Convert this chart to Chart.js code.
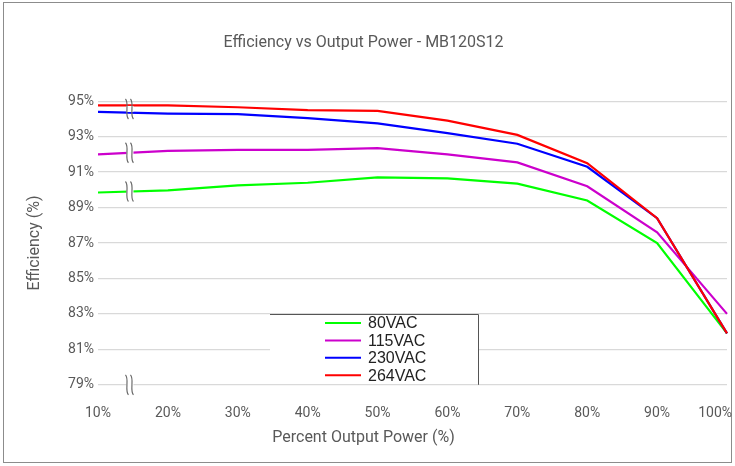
<!DOCTYPE html>
<html>
<head>
<meta charset="utf-8">
<script src="https://cdn.jsdelivr.net/npm/chart.js@4.4.1/dist/chart.umd.min.js"></script>
<style>
  html, body { margin: 0; padding: 0; background: #fff; }
  #wrap { width: 735px; height: 466px; }
</style>
</head>
<body>
<div id="wrap"><canvas id="canvas" width="735" height="466"></canvas></div>
<script>
var loadLabels = ["10%", "20%", "30%", "40%", "50%", "60%", "70%", "80%", "90%", "100%"];
var eff80 = [89.85, 89.97, 90.25, 90.4, 90.7, 90.65, 90.35, 89.4, 87.0, 81.9];
var eff115 = [92.0, 92.2, 92.25, 92.25, 92.35, 92.0, 91.55, 90.2, 87.6, 83.0];
var eff230 = [94.4, 94.3, 94.27, 94.05, 93.75, 93.2, 92.6, 91.3, 88.4, 81.9];
var eff264 = [94.77, 94.77, 94.66, 94.5, 94.45, 93.9, 93.1, 91.5, 88.4, 81.9];
var yTicks = [79, 81, 83, 85, 87, 89, 91, 93, 95];

var grey = '#595959';

// "}}" axis-break marks drawn on the lines between 10% and 20%
var breakPlugin = {
    id: 'breaks',
    afterDatasetsDraw: function(chart) {
        var ctx = chart.ctx;
        var xs = chart.scales.x, ys = chart.scales.y;
        var f = 0.45;
        var bx = xs.getPixelForValue(0) + f * (xs.getPixelForValue(1) - xs.getPixelForValue(0));
        function yAt(arr) {
            return ys.getPixelForValue(arr[0] + f * (arr[1] - arr[0]));
        }
        var centers = [
            (yAt(eff264) + yAt(eff230)) / 2,
            yAt(eff115),
            yAt(eff80),
            ys.getPixelForValue(ys.min)
        ];
        ctx.save();
        ctx.strokeStyle = '#6b6b6b';
        ctx.lineWidth = 1.2;
        centers.forEach(function(cy) {
            ctx.fillStyle = '#fff';
            ctx.fillRect(bx - 3, cy - 3, 7, 6);
            [bx - 2.5, bx + 2.5].forEach(function(x0) {
                var top = cy - 10, bot = cy + 10;
                ctx.beginPath();
                ctx.moveTo(x0 - 1.5, top);
                ctx.bezierCurveTo(x0 + 2.5, top + 4, x0 - 2.5, bot - 4, x0 + 1.5, bot);
                ctx.stroke();
            });
        });
        ctx.restore();
    }
};

// boxed legend sitting inside the plot
var boxLegend = {
    id: 'boxLegend',
    afterDraw: function(chart) {
        var ctx = chart.ctx, ca = chart.chartArea;
        var left = ca.left + 172, right = ca.left + 380, top = 314, bottom = ca.bottom - 1;
        ctx.save();
        ctx.fillStyle = '#fff';
        ctx.fillRect(left, top, right - left, bottom - top);
        ctx.strokeStyle = '#555';
        ctx.lineWidth = 1;
        ctx.beginPath();
        ctx.moveTo(left, top + 0.5);
        ctx.lineTo(right + 0.5, top + 0.5);
        ctx.lineTo(right + 0.5, ca.bottom);
        ctx.stroke();
        ctx.font = '16px "Liberation Sans", Arial, sans-serif';
        ctx.textBaseline = 'middle';
        ctx.fillStyle = '#222';
        chart.data.datasets.forEach(function(ds, i) {
            var y = 323 + i * 17.4;
            ctx.strokeStyle = ds.borderColor;
            ctx.lineWidth = 2;
            ctx.beginPath();
            ctx.moveTo(left + 55, y);
            ctx.lineTo(left + 91, y);
            ctx.stroke();
            ctx.fillText(ds.label, left + 98, y + 1);
        });
        ctx.restore();
    }
};

var framePlugin = {
    id: 'frame',
    beforeDraw: function(chart) {
        var ctx = chart.ctx;
        ctx.save();
        ctx.fillStyle = '#fff';
        ctx.fillRect(0, 0, chart.width, chart.height);
        ctx.strokeStyle = '#8c8c8c';
        ctx.lineWidth = 1;
        ctx.strokeRect(3.5, 2.5, chart.width - 7, chart.height - 6);
        ctx.restore();
        // keep the last category label inside the frame
        var xs = chart.scales.x;
        var items = xs.getLabelItems();
        var last = items[items.length - 1];
        if (last) {
            last.options.textAlign = 'right';
            last.options.translation[0] = xs.right + 5;
        }
    }
};

var config = {
    type: 'line',
    data: {
        labels: loadLabels,
        datasets: [{
            label: '80VAC',
            data: eff80,
            borderColor: '#00ff00',
            backgroundColor: '#00ff00',
            order: 4
        }, {
            label: '115VAC',
            data: eff115,
            borderColor: '#cc00cc',
            backgroundColor: '#cc00cc',
            order: 3
        }, {
            label: '230VAC',
            data: eff230,
            borderColor: '#0000ff',
            backgroundColor: '#0000ff',
            order: 2
        }, {
            label: '264VAC',
            data: eff264,
            borderColor: '#ff0000',
            backgroundColor: '#ff0000',
            order: 1
        }]
    },
    options: {
        responsive: false,
        animation: false,
        layout: { padding: { top: 9, left: 0, right: 8, bottom: 0 } },
        elements: {
            line: { borderWidth: 2.2, tension: 0 },
            point: { radius: 0 }
        },
        plugins: {
            legend: { display: false },
            tooltip: { enabled: false },
            title: {
                display: true,
                text: 'Efficiency vs Output Power - MB120S12',
                color: grey,
                font: { family: 'Roboto', size: 16, weight: 'normal' },
                padding: { top: 24, bottom: 49 }
            },
            subtitle: {
                display: true,
                position: 'bottom',
                text: 'Percent Output Power (%)',
                color: grey,
                font: { family: 'Roboto', size: 16, weight: 'normal' },
                padding: { top: 0, bottom: 18 }
            }
        },
        scales: {
            x: {
                grid: { display: false, drawTicks: false },
                border: { display: false },
                ticks: {
                    color: grey,
                    padding: 20,
                    maxRotation: 0,
                    autoSkip: false,
                    font: { family: 'Roboto', size: 14 }
                },
                afterFit: function(s) {
                    s.height = 44;
                    s.paddingRight = 0;
                }
            },
            y: {
                min: yTicks[0],
                max: yTicks[yTicks.length - 1],
                afterBuildTicks: function(s) {
                    s.ticks = yTicks.map(function(v) { return { value: v }; });
                },
                grid: { color: '#d9d9d9', lineWidth: 1.3, drawTicks: false },
                border: { display: false },
                ticks: {
                    color: grey,
                    padding: 4,
                    font: { family: 'Roboto', size: 14 },
                    callback: function(v) { return v + '%'; }
                },
                title: {
                    display: true,
                    text: 'Efficiency (%)',
                    color: grey,
                    font: { family: 'Roboto', size: 16 },
                    padding: { top: 25, bottom: 0 }
                },
                afterFit: function(s) {
                    s.width = 98;
                }
            }
        }
    },
    plugins: [framePlugin, breakPlugin, boxLegend]
};

window.onload = function() {
    window.myLine = new Chart(document.getElementById('canvas'), config);
};
</script>
</body>
</html>
